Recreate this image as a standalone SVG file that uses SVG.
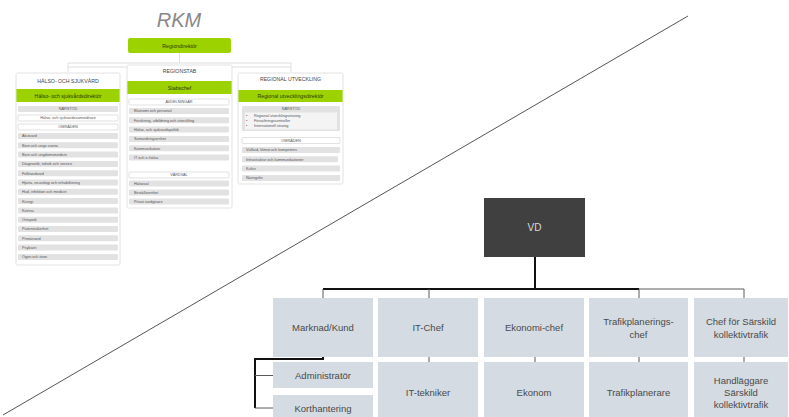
<svg xmlns="http://www.w3.org/2000/svg" width="789" height="417" viewBox="0 0 789 417">
  <style>
    text { font-family: "Liberation Sans", Arial, sans-serif; }
    .pnl { fill: #ffffff; stroke: #dadada; stroke-width: 0.8; }
    .grn { fill: #9bd200; }
    .row { fill: #e2e2e2; }
    .hdr { fill: #ffffff; stroke: #cfcfcf; stroke-width: 0.6; }
    .tt { font-size: 5.2px; fill: #444; text-anchor: middle; }
    .tg { font-size: 5.3px; fill: #2a3a00; text-anchor: middle; }
    .ts { font-size: 3.8px; fill: #555; }
    .tc { font-size: 3.8px; fill: #555; text-anchor: middle; }
    .box { fill: #d4dbe2; }
    .tb { font-size: 9.5px; fill: #4a4a4a; text-anchor: middle; }
    .thin { fill: none; stroke: #5a5a5a; stroke-width: 1; }
    .thick { fill: none; stroke: #111; stroke-width: 2; }
    .lite { fill: none; stroke: #d8d8d8; stroke-width: 0.8; }
  </style>

  <!-- divider -->
  <line x1="3" y1="415" x2="688" y2="16" stroke="#555" stroke-width="1"/>

  <!-- RKM chart -->
  <text x="179" y="27" font-size="20" font-style="italic" fill="#888" text-anchor="middle">RKM</text>

  <g id="rkm-connectors">
    <path class="lite" d="M179.5,53 V63 M68,72 V63 H291 V72 M68,67 H128 M232,67 H291"/>
  </g>

  <g id="regiondirektor">
    <rect class="grn" x="128" y="38" width="103" height="15" rx="2"/>
    <text class="tg" x="179.5" y="47.8" font-size="6.5">Regiondirektör</text>
  </g>

  <g id="halso-sjukvard">
    <rect class="pnl" x="16" y="73" width="104" height="192" rx="1.5"/>
    <text class="tt" x="68" y="82.8">HÄLSO- OCH SJUKVÅRD</text>
    <rect class="grn" x="16.4" y="89" width="103.2" height="13"/>
    <text class="tg" x="68" y="97.6">Hälso- och sjukvårdsdirektör</text>
    <rect class="row" x="18" y="106" width="100" height="6" rx="1"/>
    <text class="tc" x="68" y="110.4">NÄRSTÖD</text>
    <rect class="hdr" x="18" y="115" width="100" height="6" rx="1"/>
    <text class="tc" x="68" y="119.4">Hälso- och sjukvårdssamordnare</text>
    <rect class="hdr" x="18" y="124" width="100" height="6" rx="1"/>
    <text class="tc" x="68" y="128.4">OMRÅDEN</text>
    <g>
      <rect class="row" x="18" y="133" width="100" height="6" rx="1"/>
      <text class="ts" x="22" y="137.4">Akutvård</text>
      <rect class="row" x="18" y="142.3" width="100" height="6" rx="1"/>
      <text class="ts" x="22" y="146.7">Barn och unga vuxna</text>
      <rect class="row" x="18" y="151.6" width="100" height="6" rx="1"/>
      <text class="ts" x="22" y="156">Barn och ungdomsmedicin</text>
      <rect class="row" x="18" y="160.9" width="100" height="6" rx="1"/>
      <text class="ts" x="22" y="165.3">Diagnostik, teknik och service</text>
      <rect class="row" x="18" y="170.2" width="100" height="6" rx="1"/>
      <text class="ts" x="22" y="174.6">Folktandvård</text>
      <rect class="row" x="18" y="179.5" width="100" height="6" rx="1"/>
      <text class="ts" x="22" y="183.9">Hjärta, neurologi och rehabilitering</text>
      <rect class="row" x="18" y="188.8" width="100" height="6" rx="1"/>
      <text class="ts" x="22" y="193.2">Hud, infektion och medicin</text>
      <rect class="row" x="18" y="198.1" width="100" height="6" rx="1"/>
      <text class="ts" x="22" y="202.5">Kirurgi</text>
      <rect class="row" x="18" y="207.4" width="100" height="6" rx="1"/>
      <text class="ts" x="22" y="211.8">Kvinna</text>
      <rect class="row" x="18" y="216.7" width="100" height="6" rx="1"/>
      <text class="ts" x="22" y="221.1">Ortopedi</text>
      <rect class="row" x="18" y="226" width="100" height="6" rx="1"/>
      <text class="ts" x="22" y="230.4">Patientsäkerhet</text>
      <rect class="row" x="18" y="235.3" width="100" height="6" rx="1"/>
      <text class="ts" x="22" y="239.7">Primärvård</text>
      <rect class="row" x="18" y="244.6" width="100" height="6" rx="1"/>
      <text class="ts" x="22" y="249">Psykiatri</text>
      <rect class="row" x="18" y="253.9" width="100" height="6" rx="1"/>
      <text class="ts" x="22" y="258.3">Ögon och öron</text>
    </g>
  </g>

  <g id="regionstab">
    <rect class="pnl" x="127" y="65" width="105" height="143" rx="1.5"/>
    <text class="tt" x="179.5" y="72.8">REGIONSTAB</text>
    <rect class="grn" x="127.4" y="81" width="104.2" height="13"/>
    <text class="tg" x="179.5" y="89.6">Stabschef</text>
    <rect class="hdr" x="129" y="99" width="100" height="6" rx="1"/>
    <text class="tc" x="179" y="103.4">AVDELNINGAR</text>
    <rect class="row" x="129" y="108" width="100" height="6" rx="1"/>
    <text class="ts" x="134" y="112.4">Ekonomi och personal</text>
    <rect class="row" x="129" y="117.3" width="100" height="6" rx="1"/>
    <text class="ts" x="134" y="121.7">Forskning, utbildning och utveckling</text>
    <rect class="row" x="129" y="126.6" width="100" height="6" rx="1"/>
    <text class="ts" x="134" y="131">Hälso- och sjukvårdspolitik</text>
    <rect class="row" x="129" y="135.9" width="100" height="6" rx="1"/>
    <text class="ts" x="134" y="140.3">Samordningsenhet</text>
    <rect class="row" x="129" y="145.2" width="100" height="6" rx="1"/>
    <text class="ts" x="134" y="149.6">Kommunikation</text>
    <rect class="row" x="129" y="154.5" width="100" height="6" rx="1"/>
    <text class="ts" x="134" y="158.9">IT och e-hälsa</text>
    <rect class="hdr" x="129" y="172" width="100" height="6" rx="1"/>
    <text class="tc" x="179" y="176.4">VÅRDVAL</text>
    <rect class="row" x="129" y="180.5" width="100" height="6" rx="1"/>
    <text class="ts" x="134" y="184.9">Hälsoval</text>
    <rect class="row" x="129" y="189.5" width="100" height="6" rx="1"/>
    <text class="ts" x="134" y="193.9">Beställarenhet</text>
    <rect class="row" x="129" y="198.5" width="100" height="6" rx="1"/>
    <text class="ts" x="134" y="202.9">Privat vårdgivare</text>
  </g>

  <g id="regional-utveckling">
    <rect class="pnl" x="238" y="73" width="105" height="111" rx="1.5"/>
    <text class="tt" x="290.5" y="80.5">REGIONAL UTVECKLING</text>
    <rect class="grn" x="238.4" y="90" width="104.2" height="12"/>
    <text class="tg" x="290.5" y="97.9">Regional utvecklingsdirektör</text>
    <rect class="row" x="242" y="106" width="98" height="25" rx="1.5"/>
    <text class="tc" x="291" y="110.2">NÄRSTÖD</text>
    <rect x="245" y="112.5" width="92" height="17" fill="#f4f4f4"/>
    <text class="ts" x="246" y="117.4">•</text>
    <text class="ts" x="254" y="117.4">Regional utvecklingsstrateg</text>
    <text class="ts" x="246" y="122.4">•</text>
    <text class="ts" x="254" y="122.4">Förvaltningscontroller</text>
    <text class="ts" x="246" y="127.4">•</text>
    <text class="ts" x="254" y="127.4">Internationell strateg</text>
    <rect class="hdr" x="242" y="137.5" width="98" height="6" rx="1"/>
    <text class="tc" x="291" y="141.9">OMRÅDEN</text>
    <rect class="row" x="242" y="147" width="98" height="6" rx="1"/>
    <text class="ts" x="246" y="151.4">Välfärd, klimat och kompetens</text>
    <rect class="row" x="242" y="156.3" width="96" height="6" rx="1"/>
    <text class="ts" x="246" y="160.7">Infrastruktur och kommunikationer</text>
    <rect class="row" x="242" y="165.6" width="98" height="6" rx="1"/>
    <text class="ts" x="246" y="170">Kultur</text>
    <rect class="row" x="242" y="174.9" width="98" height="6" rx="1"/>
    <text class="ts" x="246" y="179.3">Näringsliv</text>
  </g>

  <!-- company chart -->
  <g id="connectors">
    <path class="thick" d="M535,257 V289 M323,289 H639"/>
    <path class="thin" d="M639,289 H744 V298 M323,289 V298 M429,289 V298 M639,289 V298"/>
    <path class="thin" d="M429,357 V362 M535,357 V362 M639,357 V362 M744,357 V362"/>
    <path class="thick" d="M323,357 V359 H255 V408" stroke-width="1.4"/>
    <path class="thin" d="M255,375.5 H273 M255,408 H273"/>
  </g>

  <g id="vd">
    <rect x="484" y="198" width="101" height="59" fill="#404040"/>
    <text x="534.5" y="231" font-size="10" fill="#dcdcdc" text-anchor="middle">VD</text>
  </g>

  <g id="marknad-kund">
    <rect class="box" x="273" y="298" width="100" height="59"/>
    <text class="tb" x="323" y="331">Marknad/Kund</text>
  </g>
  <g id="it-chef">
    <rect class="box" x="378" y="298" width="100" height="59"/>
    <text class="tb" x="428" y="331">IT-Chef</text>
  </g>
  <g id="ekonomi-chef">
    <rect class="box" x="484" y="298" width="100" height="59"/>
    <text class="tb" x="534" y="331">Ekonomi-chef</text>
  </g>
  <g id="trafikplaneringschef">
    <rect class="box" x="589" y="298" width="99" height="59"/>
    <text class="tb" x="638.5" y="324.5">Trafikplanerings-</text>
    <text class="tb" x="638.5" y="337.5">chef</text>
  </g>
  <g id="chef-sarskild">
    <rect class="box" x="694" y="298" width="94" height="59"/>
    <text class="tb" x="741" y="325">Chef för Särskild</text>
    <text class="tb" x="741" y="337.5">kollektivtrafik</text>
  </g>

  <g id="administrator">
    <rect class="box" x="273" y="362" width="100" height="26"/>
    <text class="tb" x="323" y="379">Administratör</text>
  </g>
  <g id="korthantering">
    <rect class="box" x="273" y="395" width="100" height="22"/>
    <text class="tb" x="323" y="411.5">Korthantering</text>
  </g>
  <g id="it-tekniker">
    <rect class="box" x="378" y="362" width="100" height="55"/>
    <text class="tb" x="428" y="395.5">IT-tekniker</text>
  </g>
  <g id="ekonom">
    <rect class="box" x="484" y="362" width="100" height="55"/>
    <text class="tb" x="534" y="395.5">Ekonom</text>
  </g>
  <g id="trafikplanerare">
    <rect class="box" x="589" y="362" width="99" height="55"/>
    <text class="tb" x="638.5" y="395.5">Trafikplanerare</text>
  </g>
  <g id="handlaggare">
    <rect class="box" x="694" y="362" width="94" height="55"/>
    <text class="tb" x="741" y="383.5">Handläggare</text>
    <text class="tb" x="741" y="396">Särskild</text>
    <text class="tb" x="741" y="407.5">kollektivtrafik</text>
  </g>
</svg>
